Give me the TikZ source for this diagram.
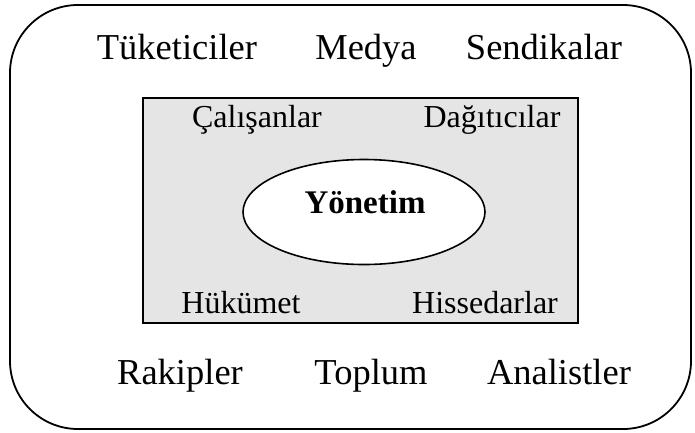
\documentclass[tikz,border=0pt]{standalone}
\usepackage{fontspec}
\setmainfont{Liberation Serif}
\usetikzlibrary{shapes.geometric, positioning}

\begin{document}
\begin{tikzpicture}[x=1pt, y=-1pt,
    frame/.style={draw=black, line width=1.8pt, rounded corners=68pt},
    core/.style={rectangle, draw=black, fill=black!10, line width=1.6pt, minimum width=435pt, minimum height=225pt, inner sep=0pt},
    hub/.style={ellipse, draw=black, fill=white, line width=1.6pt, minimum width=242pt, minimum height=105pt, inner sep=0pt},
    outer/.style={anchor=base, inner sep=0pt, font=\fontsize{36.5}{40}\selectfont},
    inner/.style={anchor=base, inner sep=0pt, font=\fontsize{32}{34}\selectfont}]

    \useasboundingbox (0,0) rectangle (695,432);
    \coordinate (tl) at (10,5);
    \coordinate (br) at (691,429);
    \draw [frame] (tl) rectangle (br);

    % stakeholders around the firm
    \node [outer] (consumers) at (177,59) {Tüketiciler};
    \node [outer] (media) at (366,59) {Medya};
    \node [outer] (unions) at (544,59) {Sendikalar};
    \node [outer] (rivals) at (180,384) {Rakipler};
    \node [outer] (society) at (371,384) {Toplum};
    \node [outer] (analysts) at (559,384) {Analistler};

    % inner circle
    \node [core] (firm) at (360.5,210.5) {};
    \node [inner] (employees) at (257,127) {Çalışanlar};
    \node [inner] (dealers) at (492,127) {Dağıtıcılar};
    \node [inner] (gov) at (241,313) {Hükümet};
    \node [inner] (owners) at (485,313) {Hissedarlar};

    \node [hub] (mgmt) at (364,212) {};
    \node [anchor=base, inner sep=0pt, font=\fontsize{33}{35}\selectfont\bfseries] (mgmtlabel) at (365,213) {Yönetim};
\end{tikzpicture}
\end{document}
